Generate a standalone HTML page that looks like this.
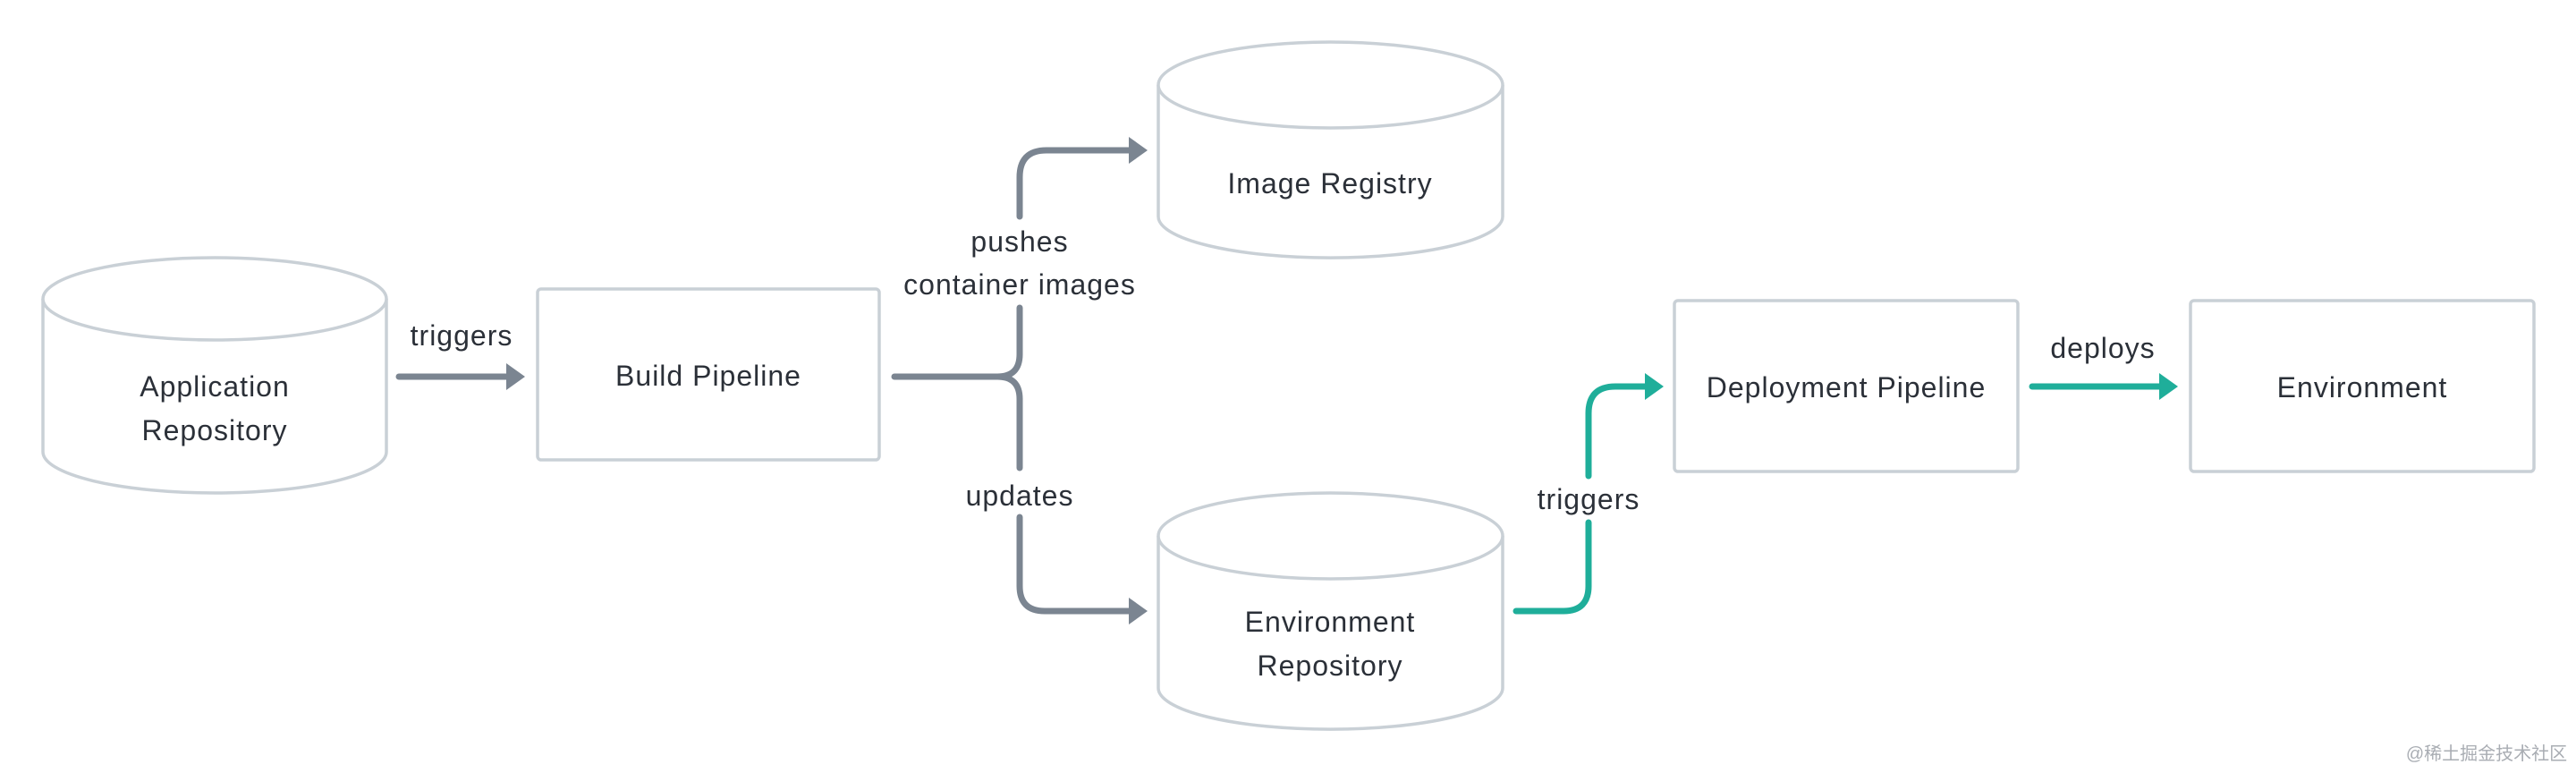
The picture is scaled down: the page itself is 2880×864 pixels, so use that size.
<!DOCTYPE html>
<html><head><meta charset="utf-8"><style>
html,body{margin:0;padding:0;background:#fff}
svg{display:block}
text{font-family:"Liberation Sans","Noto Sans CJK SC",sans-serif;font-size:32px;fill:#2b3038;text-anchor:middle;letter-spacing:1px}
</style></head><body>
<svg width="2880" height="864" viewBox="0 0 2880 864" xmlns="http://www.w3.org/2000/svg">
<g fill="#fff" stroke="#c9d0d6" stroke-width="3.5">
  <path d="M48 334 V505 A192 46 0 0 0 432 505 V334"/>
  <ellipse cx="240" cy="334" rx="192" ry="46"/>
  <path d="M1295 95 V242 A192 46 0 0 0 1680 242 V95"/>
  <ellipse cx="1487.5" cy="95" rx="192.5" ry="48"/>
  <path d="M1295 599 V769 A192 46 0 0 0 1680 769 V599"/>
  <ellipse cx="1487.5" cy="599" rx="192.5" ry="48"/>
  <rect x="601" y="323" width="382" height="191" rx="4"/>
  <rect x="1872" y="336" width="384" height="191" rx="4"/>
  <rect x="2449" y="336" width="384" height="191" rx="4"/>
</g>
<g fill="none" stroke="#7b8591" stroke-width="7" stroke-linecap="round" stroke-linejoin="round">
  <path d="M446 421 H570"/>
  <path d="M1000 421 H1115 Q1140 421 1140 396 V344"/>
  <path d="M1140 242 V198 Q1140 168 1170 168 H1264"/>
  <path d="M1115 421 Q1140 421 1140 446 V523"/>
  <path d="M1140 578 V655 Q1140 683 1168 683 H1264"/>
</g>
<g fill="#7b8591">
  <path d="M566 406 L587 421 L566 436 Z"/>
  <path d="M1262 153 L1283 168 L1262 183 Z"/>
  <path d="M1262 668 L1283 683 L1262 698 Z"/>
</g>
<g fill="none" stroke="#1fae9a" stroke-width="7" stroke-linecap="round" stroke-linejoin="round">
  <path d="M1695 683 H1748 Q1776 683 1776 655 V584"/>
  <path d="M1776 532 V462 Q1776 432 1806 432 H1842"/>
  <path d="M2272 432 H2416"/>
</g>
<g fill="#1fae9a">
  <path d="M1839 417 L1860 432 L1839 447 Z"/>
  <path d="M2414 417 L2435 432 L2414 447 Z"/>
</g>
<text x="240" y="443">Application</text>
<text x="240" y="492">Repository</text>
<text x="516" y="386">triggers</text>
<text x="792" y="431">Build Pipeline</text>
<text x="1140" y="281">pushes</text>
<text x="1140" y="329">container images</text>
<text x="1140" y="565">updates</text>
<text x="1487" y="216">Image Registry</text>
<text x="1487" y="706">Environment</text>
<text x="1487" y="755">Repository</text>
<text x="1776" y="569">triggers</text>
<text x="2064" y="444">Deployment Pipeline</text>
<text x="2351" y="400">deploys</text>
<text x="2641" y="444">Environment</text>
<text x="2780" y="849" style="font-size:20px;fill:#a9adb3;letter-spacing:0">@稀土掘金技术社区</text>
</svg>
</body></html>
